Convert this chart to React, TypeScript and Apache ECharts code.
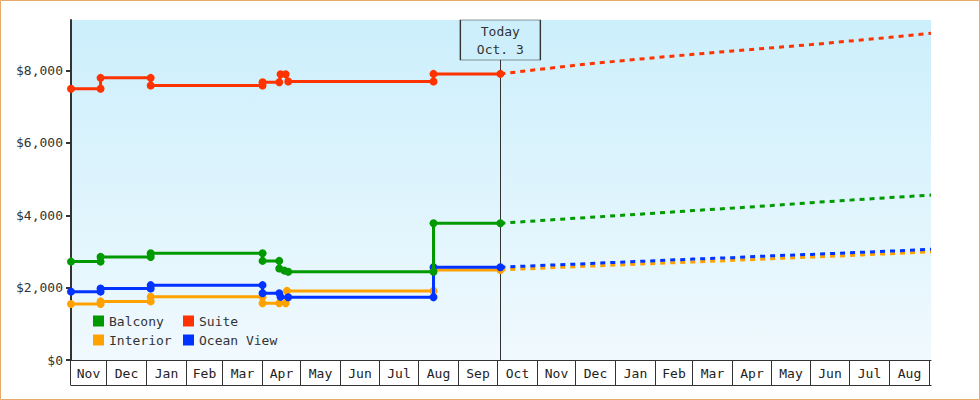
import React, { useEffect, useRef } from "react";
import * as echarts from "echarts";

const FONT = '"DejaVu Sans Mono", "Liberation Mono", monospace';

// ---- data ----
const axisStart = "2010-11-03";
const axisEnd = "2012-09-02";
const todayDate = "2011-10-03";
const todayLabel = "Today\nOct. 3";

const monthStarts = [
  "2010-11-01", "2010-12-01", "2011-01-01", "2011-02-01", "2011-03-01", "2011-04-01",
  "2011-05-01", "2011-06-01", "2011-07-01", "2011-08-01", "2011-09-01", "2011-10-01",
  "2011-11-01", "2011-12-01", "2012-01-01", "2012-02-01", "2012-03-01", "2012-04-01",
  "2012-05-01", "2012-06-01", "2012-07-01", "2012-08-01", "2012-09-01",
];
const monthLabels = [
  "Nov", "Dec", "Jan", "Feb", "Mar", "Apr", "May", "Jun", "Jul", "Aug", "Sep",
  "Oct", "Nov", "Dec", "Jan", "Feb", "Mar", "Apr", "May", "Jun", "Jul", "Aug",
];

const yTicks = [0, 2000, 4000, 6000, 8000];

const suiteDates = [
  "2010-11-03", "2010-11-26", "2010-11-26", "2011-01-04", "2011-01-04", "2011-04-01",
  "2011-04-01", "2011-04-14", "2011-04-15", "2011-04-19", "2011-04-21", "2011-08-12",
  "2011-08-12", "2011-10-03",
];
const suitePrices = [7500, 7500, 7800, 7800, 7590, 7590, 7680, 7680, 7900, 7900, 7700, 7700, 7910, 7910];

const balconyDates = [
  "2010-11-03", "2010-11-26", "2010-11-26", "2011-01-04", "2011-01-04", "2011-04-01",
  "2011-04-01", "2011-04-14", "2011-04-14", "2011-04-18", "2011-04-21", "2011-08-12",
  "2011-08-12", "2011-10-03",
];
const balconyPrices = [2720, 2720, 2850, 2850, 2950, 2950, 2740, 2740, 2530, 2470, 2440, 2440, 3780, 3780];

const oceanDates = [
  "2010-11-03", "2010-11-26", "2010-11-26", "2011-01-04", "2011-01-04", "2011-04-01",
  "2011-04-01", "2011-04-14", "2011-04-15", "2011-04-21", "2011-08-12", "2011-08-12",
  "2011-10-03",
];
const oceanPrices = [1890, 1890, 1975, 1975, 2070, 2070, 1845, 1845, 1745, 1735, 1735, 2565, 2565];

const interiorDates = [
  "2010-11-03", "2010-11-26", "2010-11-26", "2011-01-04", "2011-01-04", "2011-04-01",
  "2011-04-01", "2011-04-14", "2011-04-19", "2011-04-20", "2011-08-12", "2011-08-12",
  "2011-10-03",
];
const interiorPrices = [1550, 1550, 1620, 1620, 1750, 1750, 1570, 1570, 1570, 1910, 1910, 2490, 2490];

const forecastDates = [
  "2011-10-03", "2011-11-01", "2011-12-01", "2012-01-01", "2012-02-01", "2012-03-01",
  "2012-04-01", "2012-05-01", "2012-06-01", "2012-07-01", "2012-08-01", "2012-09-02",
];
const suiteForecast = [7910, 8030, 8150, 8260, 8360, 8450, 8545, 8630, 8720, 8820, 8920, 9035];
const balconyForecast = [3780, 3850, 3920, 3990, 4060, 4130, 4200, 4270, 4350, 4420, 4490, 4560];
const oceanForecast = [2565, 2610, 2650, 2700, 2745, 2790, 2830, 2880, 2920, 2965, 3010, 3060];
const interiorForecast = [2490, 2535, 2580, 2625, 2670, 2710, 2755, 2800, 2845, 2890, 2940, 2990];

const legendLeft = ["Balcony", "Interior"];
const legendRight = ["Suite", "Ocean View"];

// ---- helpers ----
const t = (d: string) => new Date(d + "T00:00:00").getTime();
const pairs = (dates: string[], vals: number[]) => dates.map((d, i) => [t(d), vals[i]]);

const COLORS: Record<string, string> = {
  Balcony: "#009a00",
  Suite: "#ff3300",
  Interior: "#ffa200",
  "Ocean View": "#0033ff",
};

export default function App() {
  const ref = useRef<HTMLDivElement>(null);

  useEffect(() => {
    if (!ref.current) return;
    const chart = echarts.init(ref.current, undefined, { renderer: "svg" });
    const xMin = t(axisStart);
    const xMax = t(axisEnd);
    const todayTs = t(todayDate);

    const solid = (name: string, dates: string[], vals: number[], z: number) => ({
      type: "line",
      name,
      data: pairs(dates, vals),
      color: COLORS[name],
      symbol: "circle",
      symbolSize: 8,
      showSymbol: true,
      lineStyle: { width: 3, color: COLORS[name] },
      itemStyle: { color: COLORS[name] },
      z,
      animation: false,
    });
    const dashed = (name: string, vals: number[], z: number) => ({
      type: "line",
      name,
      data: pairs(forecastDates, vals),
      color: COLORS[name],
      symbol: "none",
      showSymbol: false,
      lineStyle: { width: 3, color: COLORS[name], type: [5, 5] },
      itemStyle: { color: COLORS[name] },
      z,
      animation: false,
    });

    const monthCells = monthLabels.map((_, i) => [t(monthStarts[i]), t(monthStarts[i + 1]), 0]);

    const legendBase = {
      orient: "vertical",
      top: 314,
      itemWidth: 11,
      itemHeight: 11,
      itemGap: 5,
      icon: "rect",
      padding: 0,
      itemStyle: { borderWidth: 0 },
      textStyle: { fontFamily: FONT, fontSize: 13, color: "#333", lineHeight: 14 },
    };

    chart.setOption({
      animation: false,
      grid: {
        left: 71,
        right: 49,
        top: 20,
        bottom: 40,
        show: true,
        borderWidth: 0,
        backgroundColor: new echarts.graphic.LinearGradient(0, 0, 0, 1, [
          { offset: 0, color: "#cceffc" },
          { offset: 1, color: "#f0f9fe" },
        ]),
      },
      legend: [
        { ...legendBase, left: 93, data: legendLeft },
        { ...legendBase, left: 183, data: legendRight },
      ],
      xAxis: {
        type: "time",
        min: xMin,
        max: xMax,
        axisLine: { show: true, lineStyle: { color: "#333", width: 1 } },
        axisTick: { show: false },
        axisLabel: { show: false },
        splitLine: { show: false },
      },
      yAxis: {
        type: "value",
        min: 0,
        max: 9400,
        interval: 2000,
        axisLine: { show: true, lineStyle: { color: "#333", width: 2 } },
        axisTick: { show: true, length: 5, lineStyle: { color: "#333", width: 2 }, customValues: yTicks },
        axisLabel: {
          margin: 8,
          color: "#333",
          fontFamily: FONT,
          fontSize: 13,
          customValues: yTicks,
          formatter: (v: number) => "$" + Number(v).toLocaleString("en-US"),
        },
        splitLine: { show: false },
      },
      graphic: [
        {
          type: "rect",
          silent: true,
          z: 100,
          shape: { x: 0.5, y: 0.5, width: 979, height: 399 },
          style: { fill: "none", stroke: "#e8aa66", lineWidth: 1 },
        },
      ],
      series: [
        {
          type: "custom",
          name: "months",
          coordinateSystem: "cartesian2d",
          clip: false,
          silent: true,
          encode: { x: [0, 1], y: 2 },
          data: monthCells,
          z: 1,
          renderItem: (params: any, api: any) => {
            const s = Math.max(api.value(0), xMin);
            const e = Math.min(api.value(1), xMax);
            const p0 = api.coord([s, 0]);
            const p1 = api.coord([e, 0]);
            const x0 = Math.round(p0[0]) - 0.5;
            const x1 = Math.round(p1[0]) - 0.5;
            const y0 = Math.round(p0[1]);
            const h = 25;
            const lineStyle = { stroke: "#333", lineWidth: 1 };
            return {
              type: "group",
              children: [
                { type: "line", shape: { x1: x0, y1: y0, x2: x0, y2: y0 + h }, style: lineStyle },
                { type: "line", shape: { x1: x1, y1: y0, x2: x1, y2: y0 + h }, style: lineStyle },
                { type: "line", shape: { x1: x0, y1: y0 + h + 0.5, x2: x1 + 2, y2: y0 + h + 0.5 }, style: lineStyle },
                {
                  type: "text",
                  x: (x0 + x1) / 2,
                  y: y0 + h / 2 + 1,
                  style: {
                    text: monthLabels[params.dataIndex],
                    align: "center",
                    verticalAlign: "middle",
                    fill: "#222",
                    fontFamily: FONT,
                    fontSize: 13,
                  },
                },
              ],
            };
          },
        },
        solid("Interior", interiorDates, interiorPrices, 3),
        solid("Ocean View", oceanDates, oceanPrices, 4),
        solid("Balcony", balconyDates, balconyPrices, 5),
        solid("Suite", suiteDates, suitePrices, 6),
        dashed("Interior", interiorForecast, 3),
        dashed("Ocean View", oceanForecast, 4),
        dashed("Balcony", balconyForecast, 5),
        {
          ...dashed("Suite", suiteForecast, 6),
          markLine: {
            silent: true,
            symbol: ["none", "none"],
            label: { show: false },
            lineStyle: { color: "#333", width: 1, type: "solid" },
            data: [{ xAxis: todayTs }],
            z: 1,
          },
          markPoint: {
            silent: true,
            z: 10,
            symbol: "rect",
            symbolSize: [80, 40],
            symbolOffset: [0, 20],
            itemStyle: { color: "#cdeffc", borderColor: "#333", borderWidth: 1 },
            label: {
              show: true,
              position: "inside",
              formatter: todayLabel,
              color: "#333",
              fontFamily: FONT,
              fontSize: 13,
              lineHeight: 18,
            },
            data: [{ coord: [todayTs, 9400] }],
          },
        },
      ],
    });

    return () => chart.dispose();
  }, []);

  return (
    <div
      ref={ref}
      style={{ position: "absolute", left: 0, top: 0, width: 980, height: 400, background: "#fff" }}
    />
  );
}
